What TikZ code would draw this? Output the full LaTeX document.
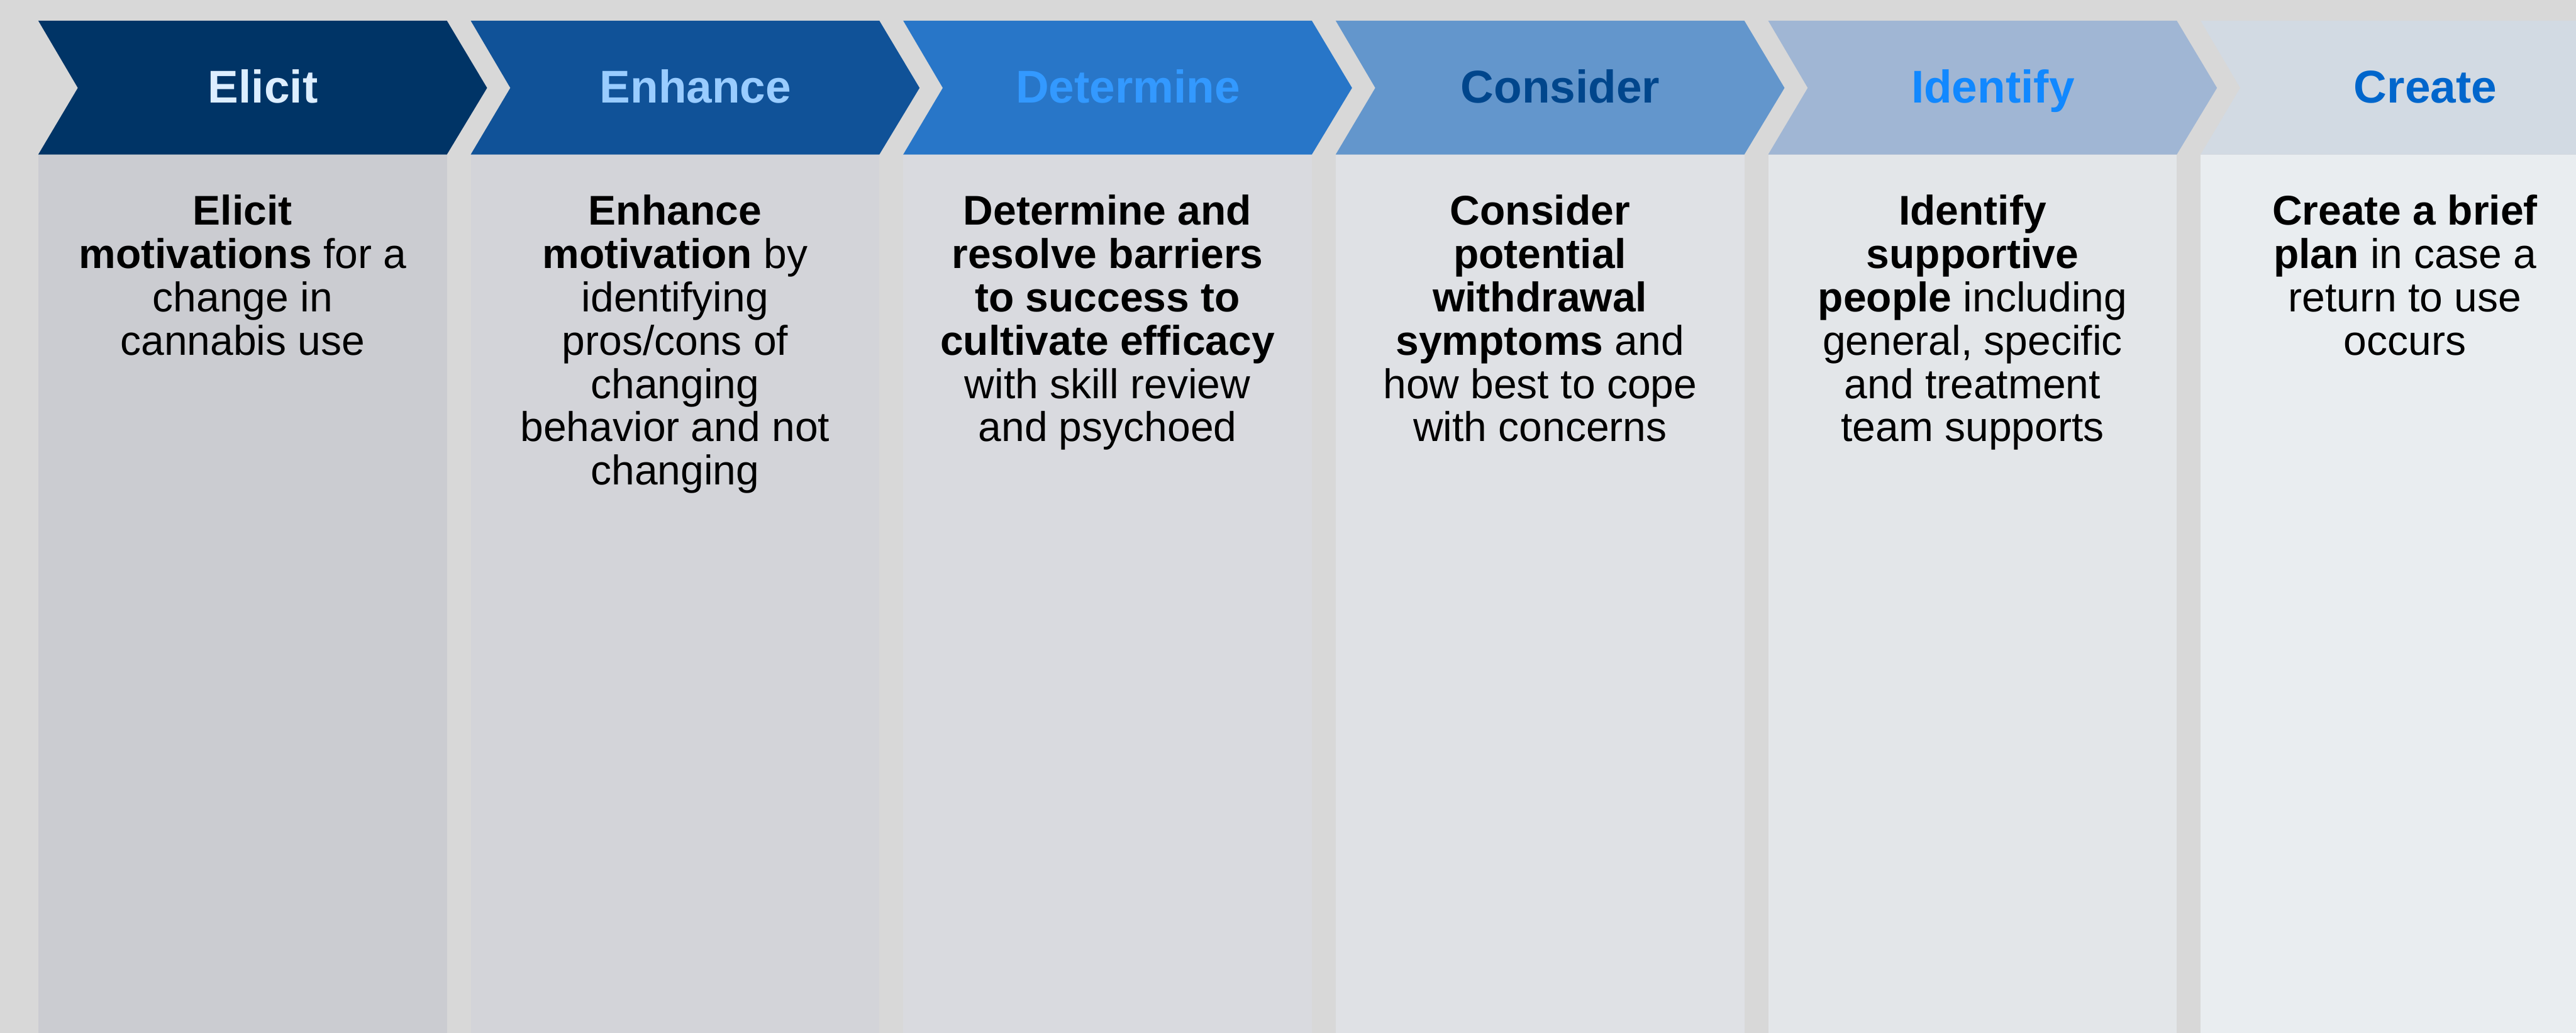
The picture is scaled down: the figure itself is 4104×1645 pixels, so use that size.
\documentclass[tikz,border=0pt]{standalone}
\usepackage{fontspec}
\setmainfont{Liberation Sans}
\begin{document}
\begin{tikzpicture}[x=0.01cm, y=-0.01cm,
  title/.style={anchor=base, inner sep=0pt, font=\fontsize{20.8}{22}\selectfont\bfseries},
  body/.style={anchor=north, inner sep=0pt, align=center, text=black,
    font=\fontsize{18.8}{19.6}\selectfont}]
% page and background
\useasboundingbox (0,0) rectangle (4104,1645);
\clip (0,0) rectangle (4104,1645);
\fill[color={rgb,255:red,216;green,216;blue,216}] (0,0) rectangle (4104,1645);

% stage colours: chevron, column, title
\definecolor{chevA}{RGB}{0,52,102}     \definecolor{colA}{RGB}{203,204,209} \definecolor{titA}{RGB}{221,238,255}
\definecolor{chevB}{RGB}{16,82,152}    \definecolor{colB}{RGB}{211,212,217} \definecolor{titB}{RGB}{153,204,255}
\definecolor{chevC}{RGB}{40,118,200}   \definecolor{colC}{RGB}{217,218,223} \definecolor{titC}{RGB}{51,153,255}
\definecolor{chevD}{RGB}{99,150,204}   \definecolor{colD}{RGB}{223,225,229} \definecolor{titD}{RGB}{0,70,140}
\definecolor{chevE}{RGB}{160,182,212}  \definecolor{colE}{RGB}{227,230,233} \definecolor{titE}{RGB}{17,136,255}
\definecolor{chevF}{RGB}{210,218,227}  \definecolor{colF}{RGB}{233,237,240} \definecolor{titF}{RGB}{0,102,204}

% chevron header and column for each stage
\foreach \x/\c/\k in {61/chevA/colA, 750/chevB/colB, 1439/chevC/colC,
                      2128/chevD/colD, 2817/chevE/colE, 3506/chevF/colF}{
  \fill[\c] (\x,33) -- ++(651,0) -- ++(64,107) -- ++(-64,106) -- ++(-651,0) -- ++(63,-106) -- cycle;
  \fill[\k] (\x,246) rectangle ++(651,1399);
}

% stage titles
\node[title, text=titA] (tElicit)    at (419,164)  {Elicit};
\node[title, text=titB] (tEnhance)   at (1108,164) {Enhance};
\node[title, text=titC] (tDetermine) at (1797,164) {Determine};
\node[title, text=titD] (tConsider)  at (2486,164) {Consider};
\node[title, text=titE] (tIdentify)  at (3175,164) {Identify};
\node[title, text=titF] (tCreate)    at (3864,164) {Create};

% stage descriptions
\node[body] (dElicit) at (386.5,310)
  {\textbf{Elicit}\\ \textbf{motivations} for a\\ change in\\ cannabis use};
\node[body] (dEnhance) at (1075.5,310)
  {\textbf{Enhance}\\ \textbf{motivation} by\\ identifying\\ pros/cons of\\ changing\\ behavior and not\\ changing};
\node[body] (dDetermine) at (1764.5,310)
  {\textbf{Determine and}\\ \textbf{resolve barriers}\\ \textbf{to success to}\\ \textbf{cultivate efficacy}\\ with skill review\\ and psychoed};
\node[body] (dConsider) at (2453.5,310)
  {\textbf{Consider}\\ \textbf{potential}\\ \textbf{withdrawal}\\ \textbf{symptoms} and\\ how best to cope\\ with concerns};
\node[body] (dIdentify) at (3142.5,310)
  {\textbf{Identify}\\ \textbf{supportive}\\ \textbf{people} including\\ general, specific\\ and treatment\\ team supports};
\node[body] (dCreate) at (3831.5,310)
  {\textbf{Create a brief}\\ \textbf{plan} in case a\\ return to use\\ occurs};
\end{tikzpicture}
\end{document}
